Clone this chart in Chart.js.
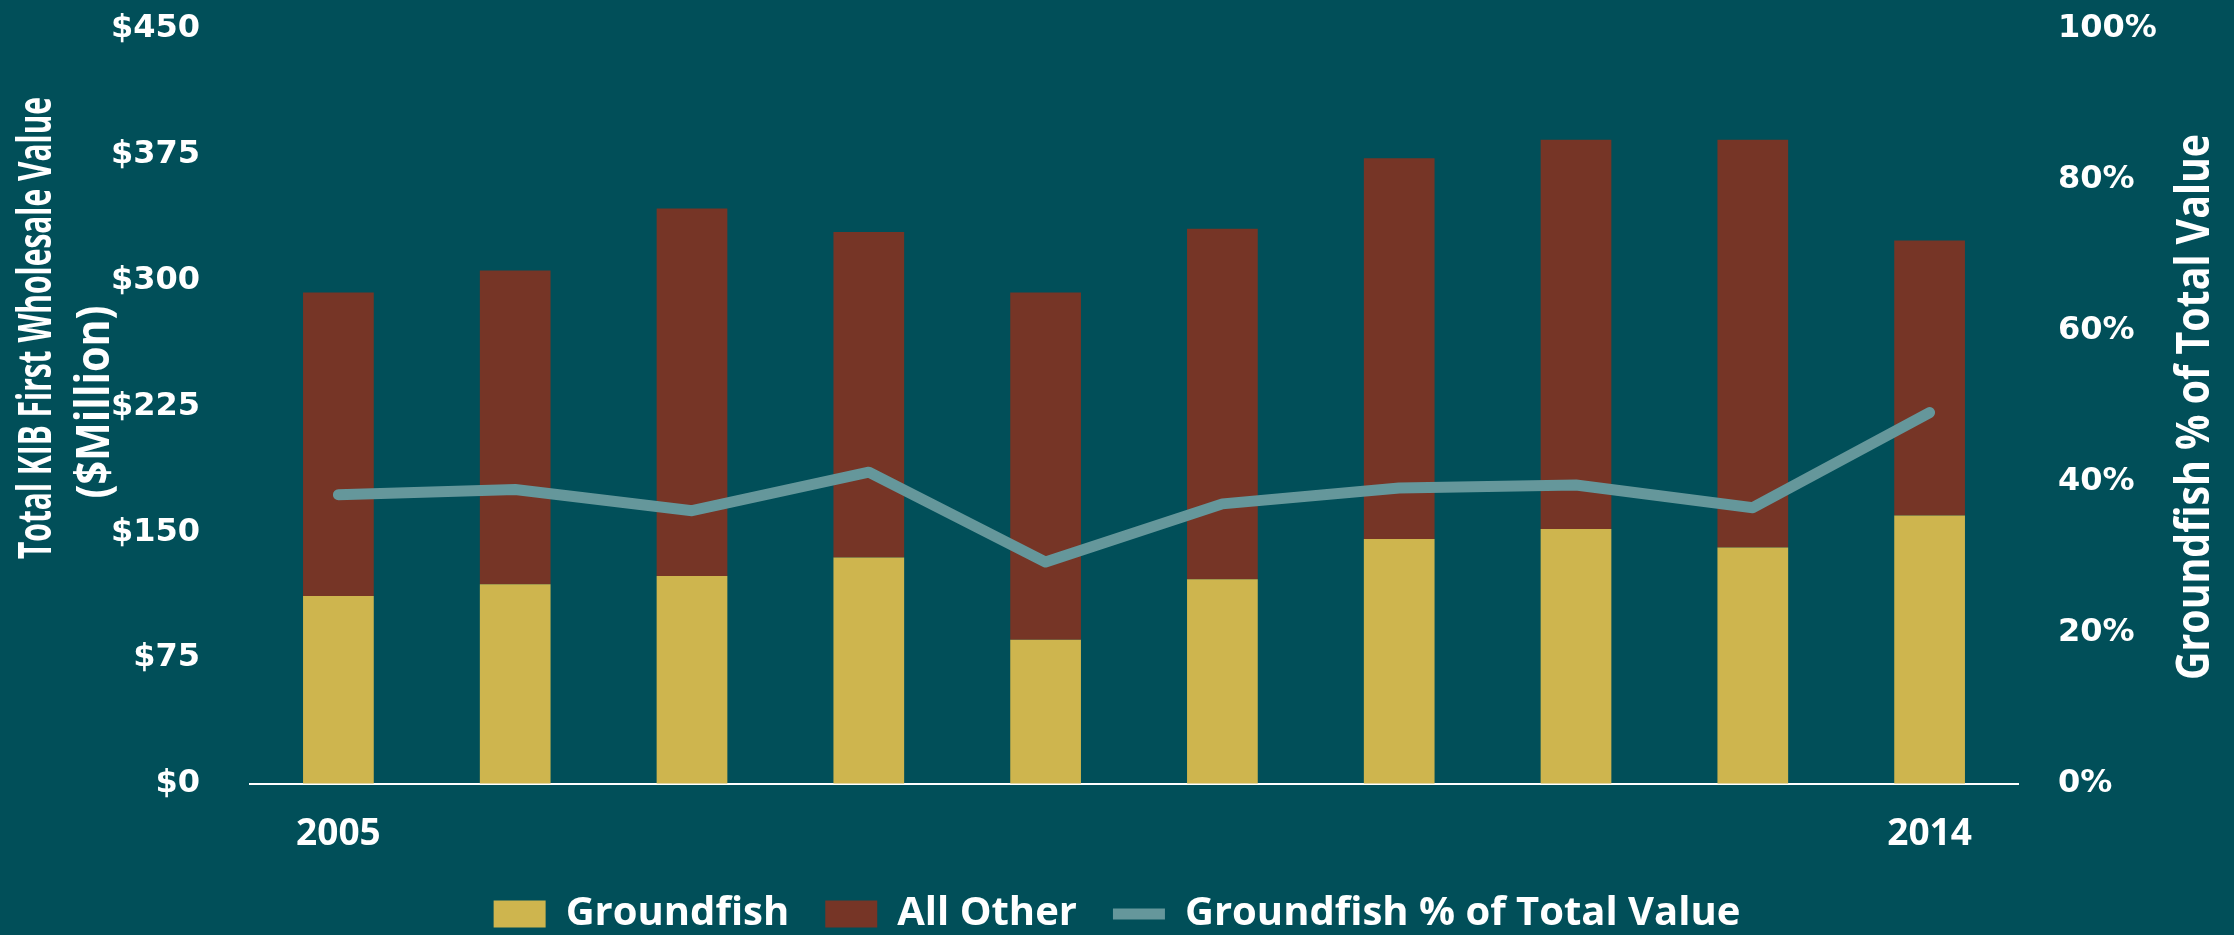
<!DOCTYPE html>
<html>
<head>
<meta charset="utf-8">
<script src="https://cdn.jsdelivr.net/npm/chart.js@4.4.1/dist/chart.umd.min.js"></script>
<style>
  html, body { margin: 0; padding: 0; background: #014f59; }
  #kibChart { display: block; }
</style>
</head>
<body>
<canvas id="kibChart" width="2234" height="935"></canvas>
<script>
// Chart data
const years = ['2005', '2006', '2007', '2008', '2009', '2010', '2011', '2012', '2013', '2014'];
const groundfish = [112, 119, 124, 135, 86, 122, 146, 152, 141, 160];      // $ million
const allOther = [181, 187, 219, 194, 207, 209, 227, 232, 243, 164];        // $ million
const groundfishPct = [38.3, 39.0, 36.2, 41.3, 29.4, 37.1, 39.2, 39.6, 36.6, 49.2]; // percent
const leftTicks = [0, 75, 150, 225, 300, 375, 450];
const rightTicks = [0, 20, 40, 60, 80, 100];

const bgColor = '#014f59';
const goldColor = '#ceb54e';
const rustColor = '#763526';
const lineColor = '#65979b';

// Draw rotated axis titles (the right one reads bottom-to-top like the original)
const axisTitles = {
    id: 'axisTitles',
    afterDraw(chart) {
        const ctx = chart.ctx;
        const draw = (text, x, y, maxW, size) => {
            ctx.save();
            ctx.translate(x, y);
            ctx.rotate(-Math.PI / 2);
            ctx.font = 'bold ' + size + 'px "Open Sans", sans-serif';
            ctx.fillStyle = '#ffffff';
            ctx.textAlign = 'center';
            ctx.textBaseline = 'middle';
            ctx.fillText(text, 0, 0, maxW);
            ctx.restore();
        };
        draw('Total KIB First Wholesale Value', 38, 328, 462, 46);
        draw('($Million)', 96, 402, 193, 46);
        draw('Groundfish % of Total Value', 2196, 407, 546, 46);
    }
};

const bgPlugin = {
    id: 'bg',
    beforeDraw(chart) {
        const ctx = chart.ctx;
        ctx.save();
        ctx.fillStyle = bgColor;
        ctx.fillRect(0, 0, chart.width, chart.height);
        ctx.restore();
    }
};

// invisible tick marks are used as spacing between the axes and their labels
const hiddenTicks = (len) => ({
    display: true,
    drawOnChartArea: false,
    drawTicks: true,
    tickLength: len,
    color: 'transparent'
});

new Chart(document.getElementById('kibChart'), {
    type: 'bar',
    data: {
        labels: years,
        datasets: [
            {
                label: 'Groundfish',
                data: groundfish,
                backgroundColor: goldColor,
                yAxisID: 'y',
                order: 1,
                pointStyle: 'rect',
                categoryPercentage: 1,
                barPercentage: 0.4
            },
            {
                label: 'All Other',
                data: allOther,
                backgroundColor: rustColor,
                yAxisID: 'y',
                order: 1,
                pointStyle: 'rect',
                categoryPercentage: 1,
                barPercentage: 0.4
            },
            {
                type: 'line',
                label: 'Groundfish % of Total Value',
                data: groundfishPct,
                borderColor: lineColor,
                backgroundColor: lineColor,
                borderWidth: 11,
                borderCapStyle: 'round',
                borderJoinStyle: 'round',
                pointRadius: 0,
                pointStyle: 'line',
                tension: 0,
                yAxisID: 'y1',
                order: 0
            }
        ]
    },
    options: {
        responsive: false,
        animation: false,
        layout: { padding: { top: 29, left: 0, right: 0, bottom: 0 } },
        plugins: {
            tooltip: { enabled: false },
            legend: {
                position: 'bottom',
                maxHeight: 77,
                labels: {
                    color: '#ffffff',
                    font: { family: '"Open Sans", sans-serif', size: 40, weight: 'bold' },
                    usePointStyle: true,
                    pointStyleWidth: 52,
                    boxHeight: 27,
                    padding: 36,
                    sort: (a, b) => a.datasetIndex - b.datasetIndex
                }
            }
        },
        scales: {
            x: {
                stacked: true,
                grid: { display: false, drawTicks: false },
                border: { display: true, color: '#ffffff', width: 2 },
                ticks: {
                    color: '#ffffff',
                    autoSkip: false,
                    maxRotation: 0,
                    padding: 28,
                    font: { family: '"Open Sans", sans-serif', size: 37, weight: 'bold' },
                    callback: function(value, index) {
                        return (index === 0 || index === years.length - 1) ? years[index] : '';
                    }
                },
                afterFit(scale) { scale.height = 74; }
            },
            y: {
                stacked: true,
                position: 'left',
                min: 0,
                max: 450,
                grid: hiddenTicks(46),
                border: { display: false },
                afterBuildTicks(scale) { scale.ticks = leftTicks.map(v => ({ value: v })); },
                ticks: {
                    color: '#ffffff',
                    padding: 4,
                    font: { family: '"DejaVu Sans", sans-serif', size: 32, weight: 'bold' },
                    callback: v => '$' + v
                },
                afterFit(scale) { scale.width = 250; }
            },
            y1: {
                position: 'right',
                min: 0,
                max: 100,
                grid: hiddenTicks(36),
                border: { display: false },
                afterBuildTicks(scale) { scale.ticks = rightTicks.map(v => ({ value: v })); },
                ticks: {
                    color: '#ffffff',
                    padding: 4,
                    font: { family: '"DejaVu Sans", sans-serif', size: 32, weight: 'bold' },
                    callback: v => v + '%'
                },
                afterFit(scale) { scale.width = 216; }
            }
        }
    },
    plugins: [bgPlugin, axisTitles]
});
</script>
</body>
</html>
